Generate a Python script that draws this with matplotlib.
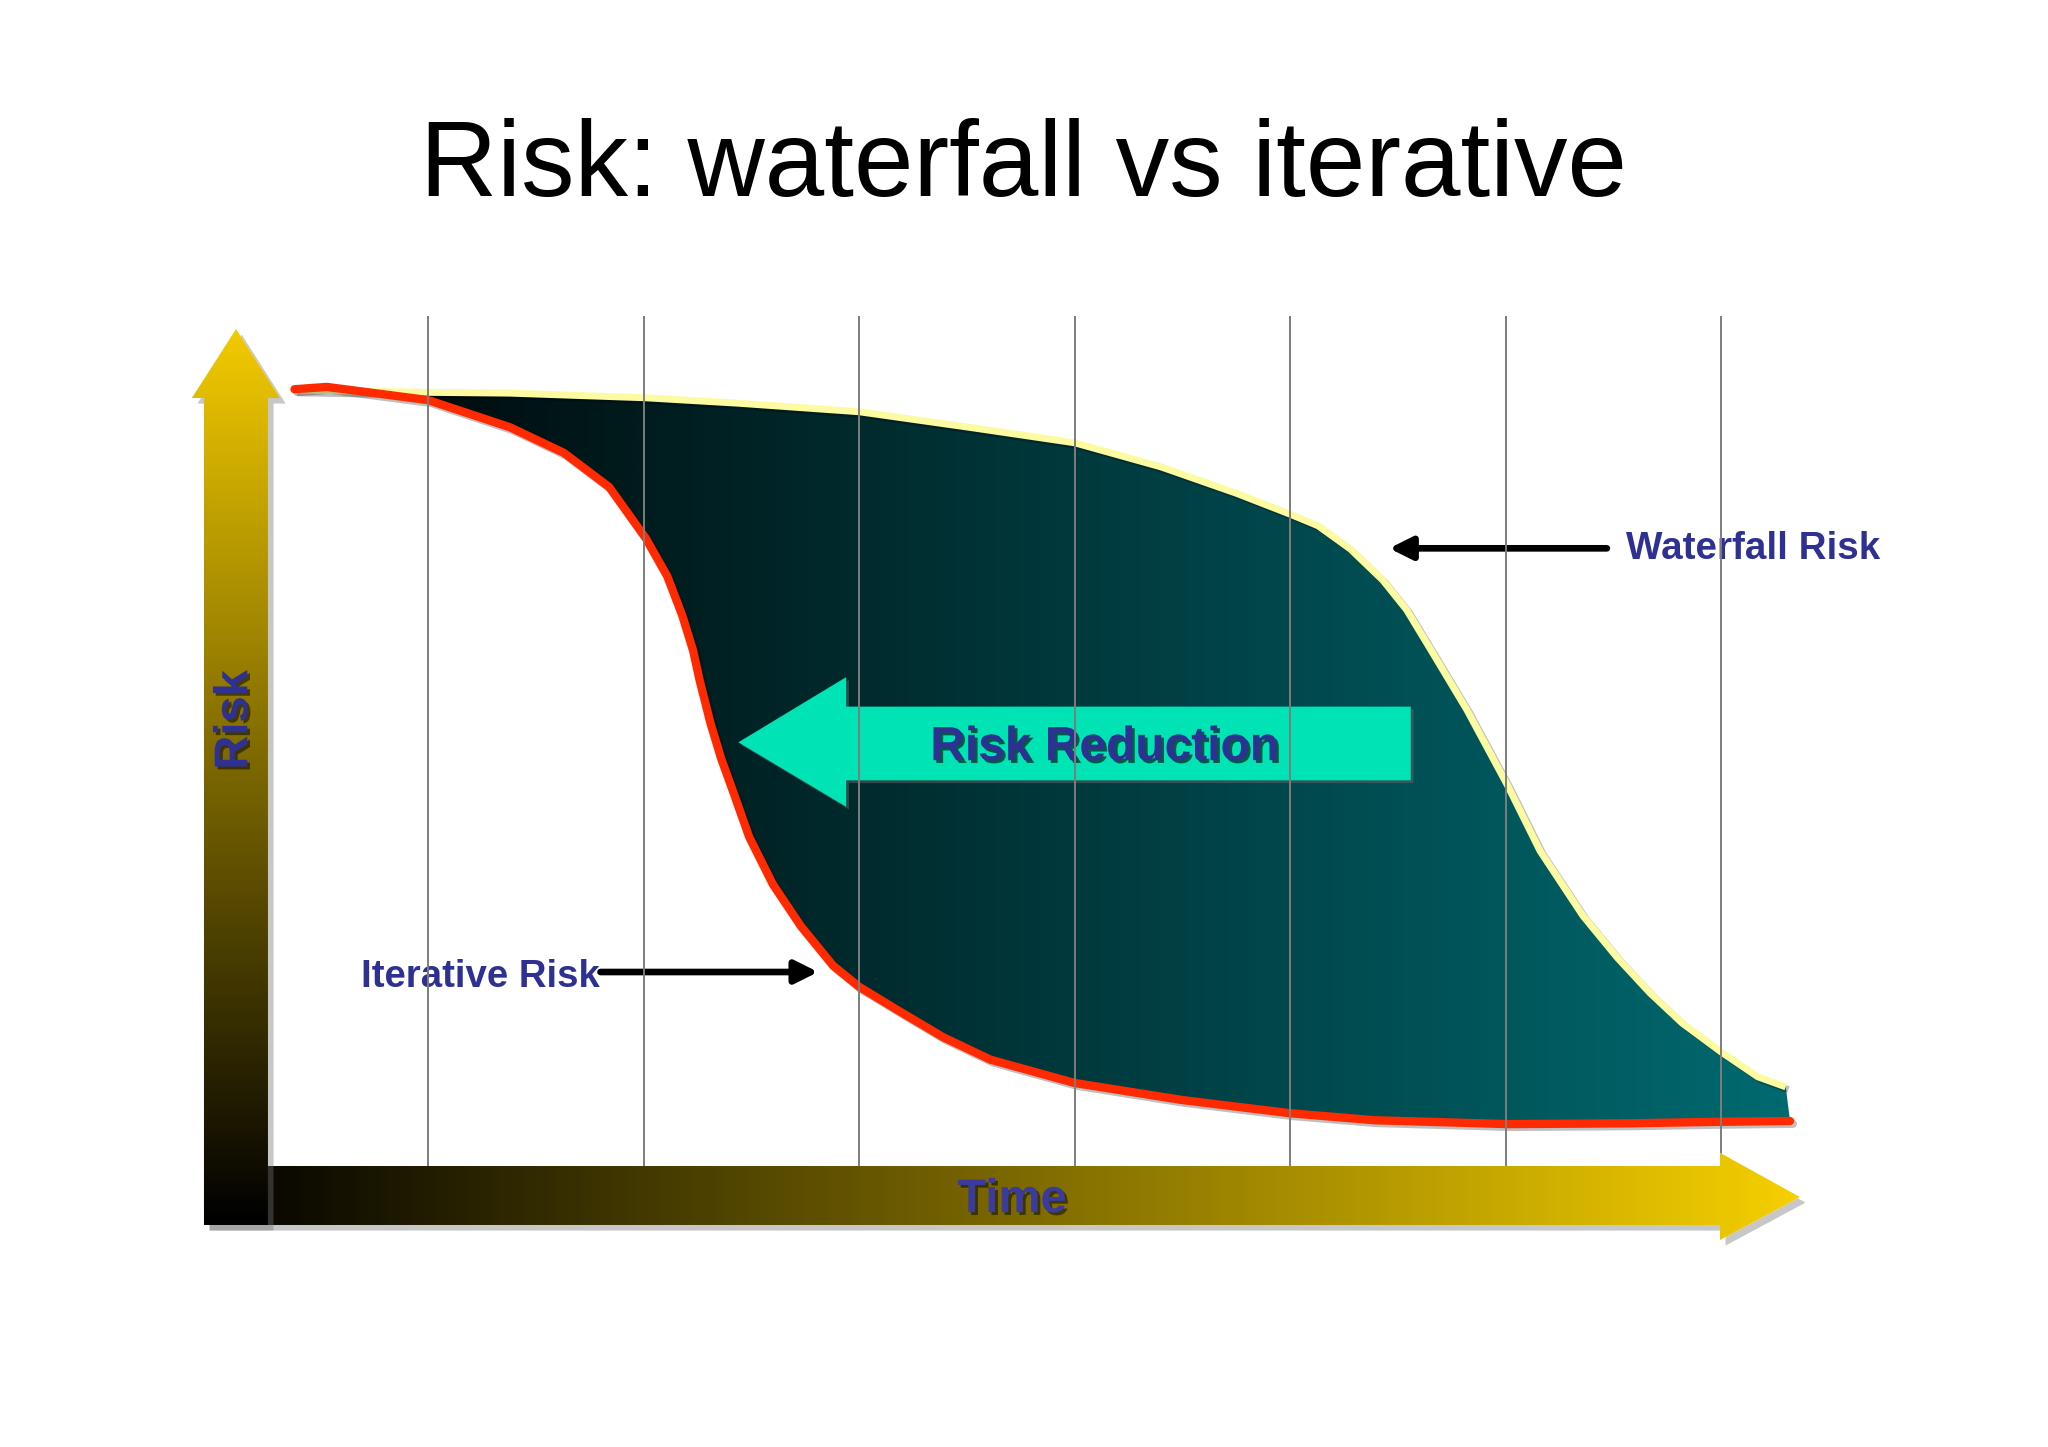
import numpy as np
import matplotlib
matplotlib.use('Agg')
import matplotlib.pyplot as plt
import matplotlib.patheffects as pe
from matplotlib.patches import Polygon
from matplotlib.colors import LinearSegmentedColormap

plt.rcParams['font.family'] = ['Liberation Sans', 'DejaVu Sans']

# Time measured in project phases, risk on a 0-10 scale
waterfall_t = [0.38, 1.00, 1.38, 2.01, 2.44, 3.00, 3.51, 4.00, 4.40, 4.75, 5.00, 5.13,
               5.28, 5.43, 5.54, 5.66, 5.82, 6.01, 6.16, 6.36, 6.52, 6.67, 6.82, 7.00,
               7.17, 7.30]
waterfall_r = [10.00, 9.97, 9.96, 9.90, 9.83, 9.72, 9.52, 9.32, 9.01, 8.67, 8.40, 8.25,
               7.95, 7.55, 7.17, 6.62, 5.88, 4.90, 4.06, 3.22, 2.68, 2.23, 1.84, 1.47,
               1.15, 1.02]

iterative_t = [0.38, 0.53, 1.00, 1.38, 1.63, 1.84, 2.01, 2.11, 2.18, 2.23, 2.26, 2.31,
               2.36, 2.42, 2.49, 2.60, 2.73, 2.88, 3.00, 3.19, 3.39, 3.61, 4.00, 4.50,
               5.00, 5.39, 6.01, 6.57, 7.00, 7.32]
iterative_r = [10.01, 10.04, 9.87, 9.52, 9.19, 8.75, 8.09, 7.60, 7.09, 6.64, 6.26, 5.71,
               5.25, 4.79, 4.24, 3.63, 3.09, 2.58, 2.31, 1.99, 1.66, 1.37, 1.07, 0.85,
               0.68, 0.59, 0.54, 0.55, 0.57, 0.58]

phase_lines = [1, 2, 3, 4, 5, 6, 7]

title = 'Risk: waterfall vs iterative'
label_reduction = 'Risk Reduction'
label_waterfall = 'Waterfall Risk'
label_iterative = 'Iterative Risk'

LABEL_BLUE = '#2e3192'
GOLD = '#f5cf00'


def gradient_shape(ax, verts, c0, c1, horizontal=True, z=1, shadow=False):
    poly = Polygon(verts, closed=True, facecolor='white', edgecolor='none', zorder=z)
    if shadow:
        poly.set_path_effects([pe.SimplePatchShadow(offset=(4, -4), shadow_rgbFace='0.45', alpha=0.4),
                               pe.Normal()])
    ax.add_patch(poly)
    xs = [v[0] for v in verts]
    ys = [v[1] for v in verts]
    g = np.linspace(0, 1, 256)
    img = g[None, :] if horizontal else g[:, None]
    cmap = LinearSegmentedColormap.from_list('grad', [c0, c1])
    im = ax.imshow(img, cmap=cmap, extent=(min(xs), max(xs), min(ys), max(ys)),
                   origin='lower', aspect='auto', interpolation='bilinear', zorder=z)
    im.set_clip_path(poly)


fig = plt.figure(figsize=(20.48, 14.47), dpi=100, facecolor='white')
ax = fig.add_axes([0, 0, 1, 1])
ax.axis('off')

# area between the two curves, dark to teal
band = list(zip(waterfall_t, waterfall_r)) + list(zip(iterative_t[::-1], iterative_r[::-1]))
gradient_shape(ax, band, '#000405', '#006a70', horizontal=True, z=1)

# big "Risk Reduction" arrow
red_arrow = Polygon([(2.44, 5.46), (2.94, 6.30), (2.94, 5.92), (5.56, 5.92), (5.56, 4.97),
                     (2.94, 4.97), (2.94, 4.63)], closed=True, facecolor='#00e3b5',
                    edgecolor='none', zorder=2,
                    path_effects=[pe.SimplePatchShadow(offset=(2, -2), shadow_rgbFace='0.4', alpha=0.5),
                                  pe.Normal()])
ax.add_patch(red_arrow)
ax.text(4.14, 5.23, label_reduction, ha='center', va='baseline', fontsize=34.5,
        fontweight='bold', color=LABEL_BLUE, zorder=4,
        path_effects=[pe.SimplePatchShadow(offset=(2, -2), shadow_rgbFace='k', alpha=0.6), pe.Normal()])

# the two risk curves
line_shadow = [pe.SimpleLineShadow(offset=(2, -2), shadow_color='k', alpha=0.25), pe.Normal()]
ax.plot(waterfall_t, waterfall_r, color='#fdfba2', lw=5, solid_capstyle='butt',
        solid_joinstyle='round', zorder=3, path_effects=line_shadow)
ax.plot(iterative_t, iterative_r, color='#ff2a00', lw=6, solid_capstyle='round',
        solid_joinstyle='round', zorder=3, path_effects=line_shadow)

# callouts
ax.text(6.56, 7.82, label_waterfall, ha='left', va='baseline', fontsize=27.8,
        fontweight='bold', color=LABEL_BLUE, zorder=4)
ax.annotate('', xy=(5.46, 7.96), xytext=(6.47, 7.96),
            arrowprops=dict(arrowstyle='-|>,head_length=0.4,head_width=0.2', lw=4.8,
                            color='k', mutation_scale=34, shrinkA=0, shrinkB=0), zorder=4)
ax.text(0.69, 2.31, label_iterative, ha='left', va='baseline', fontsize=27.6,
        fontweight='bold', color=LABEL_BLUE, zorder=4)
ax.annotate('', xy=(2.81, 2.50), xytext=(1.80, 2.50),
            arrowprops=dict(arrowstyle='-|>,head_length=0.4,head_width=0.2', lw=4.8,
                            color='k', mutation_scale=34, shrinkA=0, shrinkB=0), zorder=4)

# phase grid lines
ax.vlines(phase_lines, 0, 10.95, colors='#7d7d7d', lw=1.4, zorder=5)

# axis arrows with gold gradient
x_arrow = [(-0.04, 0.0), (6.995, 0.0), (6.995, 0.17), (7.366, -0.40), (6.995, -0.954),
           (6.995, -0.76), (-0.04, -0.76)]
gradient_shape(ax, x_arrow, '#000000', GOLD, horizontal=True, z=6, shadow=True)
y_arrow = [(-0.04, -0.76), (0.257, -0.76), (0.257, 9.897), (0.313, 9.897), (0.109, 10.786),
           (-0.096, 9.897), (-0.04, 9.897)]
gradient_shape(ax, y_arrow, '#000000', '#f2ca00', horizontal=False, z=7, shadow=True)

axis_fx = [pe.SimplePatchShadow(offset=(2, -2), shadow_rgbFace='k', alpha=0.5), pe.Normal()]
ax.text(0.105, 5.75, 'Risk', rotation=90, ha='center', va='center', fontsize=34,
        fontweight='bold', color=LABEL_BLUE, zorder=8, path_effects=axis_fx)
ax.text(3.71, -0.44, 'Time', ha='center', va='center', fontsize=34,
        fontweight='bold', color='#3b3b9e', zorder=8, path_effects=axis_fx)

ax.text(3.765, 12.5, title, ha='center', va='baseline', fontsize=77, color='k', zorder=8)

ax.set_xlim(-0.9865, 8.517)
ax.set_ylim(-3.621, 15.026)

fig.savefig('out.png', dpi=100, facecolor='white')
